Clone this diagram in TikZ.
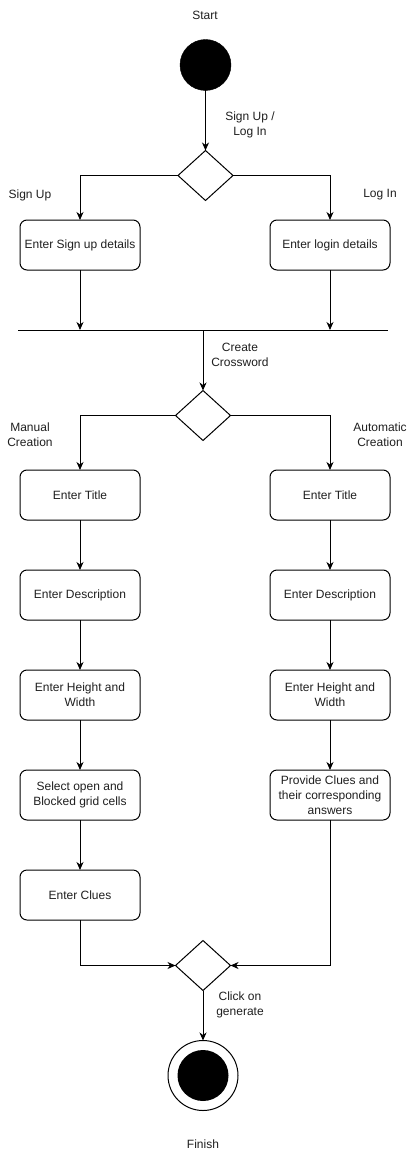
\documentclass[tikz,border=0pt]{standalone}
\usepackage{fontspec}
\setmainfont{Liberation Sans}
\usetikzlibrary{shapes.geometric,arrows.meta}
\tikzset{
  every node/.style={font=\fontsize{12}{15}\selectfont, text=black!88},
  box/.style={draw, line width=1pt, rectangle, rounded corners=7pt, minimum width=120pt, minimum height=50pt, align=center, inner sep=2pt, outer sep=0pt},
  dia/.style={draw, line width=1pt, diamond, minimum width=55pt, minimum height=50pt, inner sep=0pt, outer sep=0pt},
  lbl/.style={align=center, inner sep=0pt},
  arr/.style={line width=1pt, -{Stealth[length=8pt,width=7pt,inset=2.5pt]}},
  ln/.style={line width=1pt}
}
\begin{document}
\begin{tikzpicture}[x=1pt,y=-1pt]
\useasboundingbox (0,0) rectangle (411,1161);
% start
\node[lbl] (tstart) at (205,15) {Start};
\node[circle, fill=black, draw=black, minimum size=51pt, inner sep=0pt, outer sep=0pt] (start) at (205.5,65) {};
\node[dia] (d1) at (205.5,175.5) {};
\draw[arr] (start.south) -- (d1.north);
\node[lbl] (l1) at (250,125) {Sign Up /\\Log In};
% branch 1
\node[box] (signup) at (80,245) {Enter Sign up details};
\node[box] (login) at (330,245) {Enter login details};
\draw[arr] (d1.west) -| (signup.north);
\draw[arr] (d1.east) -| (login.north);
\node[lbl] (lsu) at (30,195) {Sign Up};
\node[lbl] (lli) at (380,195) {Log In};
% bar
\coordinate (barL) at (18,330);
\coordinate (barR) at (388,330);
\draw[ln] (barL) -- (barR);
\draw[arr] (signup.south) -- (signup.south |- barL);
\draw[arr] (login.south) -- (login.south |- barL);
% diamond 2
\node[dia] (d2) at (203,415.5) {};
\draw[arr] (d2.north |- barL) -- (d2.north);
\node[lbl] (lcc) at (240,355) {Create\\Crossword};
\node[lbl] (lmc) at (30,435) {Manual\\Creation};
\node[lbl] (lac) at (380,435) {Automatic\\Creation};
% manual column
\node[box] (mt) at (80,495) {Enter Title};
\node[box] (md) at (80,595) {Enter Description};
\node[box] (mh) at (80,695) {Enter Height and\\Width};
\node[box] (ms) at (80,795) {Select open and\\Blocked grid cells};
\node[box] (mc) at (80,895) {Enter Clues};
% automatic column
\node[box] (at) at (330,495) {Enter Title};
\node[box] (ad) at (330,595) {Enter Description};
\node[box] (ah) at (330,695) {Enter Height and\\Width};
\node[box] (ap) at (330,795) {Provide Clues and\\their corresponding\\answers};
\draw[arr] (d2.west) -| (mt.north);
\draw[arr] (d2.east) -| (at.north);
\draw[arr] (mt) -- (md);
\draw[arr] (md) -- (mh);
\draw[arr] (mh) -- (ms);
\draw[arr] (ms) -- (mc);
\draw[arr] (at) -- (ad);
\draw[arr] (ad) -- (ah);
\draw[arr] (ah) -- (ap);
% diamond 3
\node[dia] (d3) at (203,965.5) {};
\draw[arr] (mc.south) |- (d3.west);
\draw[arr] (ap.south) |- (d3.east);
% end
\node[circle, draw=black, line width=1pt, fill=white, minimum size=70pt, inner sep=0pt, outer sep=0pt] (fin) at (203,1075.5) {};
\node[circle, fill=black, minimum size=51pt, inner sep=0pt] (finin) at (fin.center) {};
\draw[arr] (d3.south) -- (fin.north);
\node[lbl] (lcg) at (240,1005) {Click on\\generate};
\node[lbl] (tfin) at (203,1144) {Finish};
\end{tikzpicture}
\end{document}
